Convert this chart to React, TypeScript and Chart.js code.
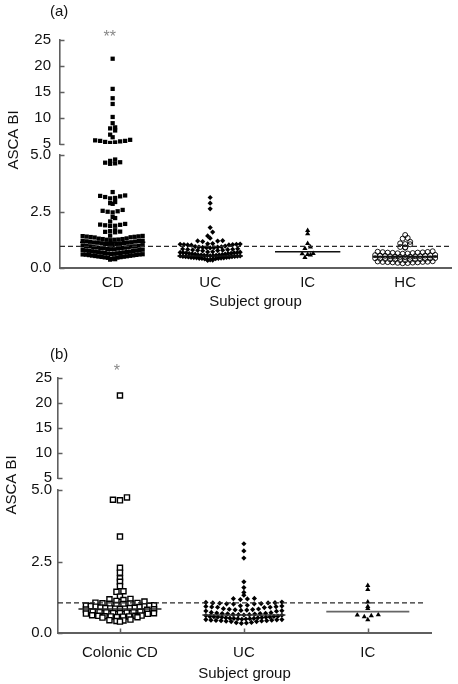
import React, { useEffect, useRef } from "react";
import { Chart, registerables } from "chart.js";

Chart.register(...registerables);

// ---------------- data ----------------
const groupsA = ["CD", "UC", "IC", "HC"];
const groupsB = ["Colonic CD", "UC", "IC"];
const upperTicks = [5, 10, 15, 20, 25];
const lowerTicks = [0, 2.5, 5];

const cdValues = [
  21.4, 15.6, 13.8, 12.7, 10.2, 9.0, 8.2, 8.0, 7.6, 6.8, 6.3, 5.8, 5.7, 5.6, 5.5, 5.4, 5.3, 5.2, 5.6,
  4.8, 4.74, 4.68, 4.63, 4.61, 4.66,
  3.36, 3.21, 3.17, 3.14, 3.1, 3.08, 3.19,
  2.92, 2.87, 2.84,
  2.57, 2.53, 2.49, 2.46, 2.51,
  2.26, 2.21,
  2.06,
  1.95, 1.92, 1.89, 1.87, 1.91, 1.86,
  1.67, 1.63, 1.61, 1.58, 1.6,
  1.43, 1.41, 1.39, 1.4, 1.37, 1.42, 1.38, 1.36, 1.35,
  1.31, 1.3, 1.28, 1.28, 1.26, 1.25, 1.25, 1.23, 1.21, 1.2, 1.2, 1.18, 1.17, 1.16, 1.14, 1.13,
  1.12, 1.12, 1.1, 1.09, 1.07, 1.06, 1.05, 1.04, 1.02, 1.01, 1.0, 0.99, 0.98, 0.96, 0.96, 0.95,
  0.93, 0.92, 0.91, 0.9, 0.88, 0.88, 0.87, 0.86, 0.84, 0.83, 0.83, 0.81, 0.8, 0.79, 0.78, 0.77,
  0.76, 0.75, 0.74, 0.72, 0.72, 0.71, 0.7, 0.69, 0.68, 0.67, 0.66, 0.65, 0.64, 0.63, 0.62, 0.61,
  0.6, 0.6, 0.59, 0.58, 0.57, 0.56, 0.55, 0.54, 0.53, 0.52, 0.51, 0.5, 0.49, 0.48, 0.47, 0.46,
  0.45, 0.43, 0.41, 0.39, 0.37,
];

const ucValues = [
  3.12, 2.87, 2.62, 1.79, 1.59, 1.42, 1.32, 1.21, 1.2, 1.19, 1.17,
  1.08, 1.07, 1.06, 1.05, 1.05, 1.04, 1.03, 1.02, 1.02, 1.01,
  0.97, 0.95, 0.94, 0.93, 0.92, 0.91, 0.9, 0.9, 0.89,
  0.85, 0.84, 0.83, 0.82, 0.81, 0.8, 0.79, 0.78, 0.77, 0.76,
  0.72, 0.71, 0.7, 0.69, 0.68, 0.68, 0.67, 0.66, 0.65, 0.64, 0.64, 0.63, 0.62, 0.61,
  0.59, 0.58, 0.58, 0.57, 0.56, 0.56, 0.55, 0.55, 0.54, 0.53, 0.53, 0.52, 0.51, 0.51, 0.5, 0.5,
  0.49, 0.48, 0.47, 0.47, 0.46, 0.45, 0.45, 0.44, 0.43, 0.43, 0.42, 0.41, 0.4, 0.4,
  0.37, 0.36, 0.35, 0.34,
];

const icValues = [1.66, 1.52, 1.08, 0.93, 0.86, 0.64, 0.63, 0.6, 0.57, 0.46];

const hcValues = [
  1.46, 1.33, 1.3, 1.16, 1.09, 1.06, 1.05, 0.93, 0.91, 0.9,
  0.74, 0.72, 0.71, 0.7, 0.69, 0.68, 0.68, 0.67, 0.66, 0.65, 0.64, 0.63,
  0.58, 0.57, 0.56, 0.55, 0.55, 0.54, 0.53, 0.52, 0.52, 0.51, 0.5, 0.49, 0.48,
  0.44, 0.43, 0.42, 0.41, 0.4, 0.4, 0.39, 0.38, 0.37, 0.37, 0.36, 0.35, 0.34,
  0.3, 0.29, 0.28, 0.27, 0.27, 0.26, 0.25, 0.25, 0.24, 0.23, 0.22, 0.21,
];

const colonicCdValues = [
  21.5,
  4.74, 4.66, 4.64, 3.37, 2.28, 2.11, 1.91, 1.79, 1.64, 1.46, 1.44, 1.27,
  1.19, 1.18, 1.15, 1.12, 1.1, 1.06, 1.05, 1.04, 1.03, 1.02, 1.01,
  0.98, 0.97, 0.96, 0.95, 0.94, 0.93, 0.92, 0.91,
  0.89, 0.88, 0.87, 0.87, 0.86, 0.85, 0.85, 0.84, 0.83, 0.82, 0.81,
  0.75, 0.74, 0.73, 0.72, 0.72, 0.71, 0.7, 0.7, 0.69, 0.68, 0.67,
  0.62, 0.61, 0.6, 0.6, 0.59, 0.58, 0.58, 0.57, 0.56, 0.55, 0.54,
  0.47, 0.45, 0.44, 0.42, 0.4,
];

const mediansA = [1.14, 0.53, 0.72, 0.5];
const mediansB = [0.84, 0.63, 0.75];
const cutoffA = 0.96;
const cutoffB = 1.05;

// ---------------- styling / layout ----------------
const FONT = "'Liberation Sans', Arial, Helvetica, sans-serif";
const TEXT = "#111";
const AXIS = "#5f5f5f";
const W = 458;

type Marker = {
  pointStyle: string;
  radius: number;
  fill: string;
  stroke: string;
  lw: number;
  stepPx: number;
  binPx: number;
  halfPx: number;
};

const mk = (pointStyle: string, radius: number, fill: string, stroke: string, lw: number, stepPx: number, binPx: number, halfPx: number): Marker =>
  ({ pointStyle, radius, fill, stroke, lw, stepPx, binPx, halfPx });

type PanelCfg = {
  top: number;
  height: number;
  axisX: number;
  right: number;
  xMin: number;
  xMax: number;
  dashEnd: number;
  up: [number, number];
  low: [number, number];
  labelPad: number;
  xAxisH: number;
  yPad: number;
  xTicks: boolean;
  groups: string[];
  series: { values: number[]; marker: Marker }[];
  medians: number[];
  medianColors: string[];
  cutoff: number;
  tag: string;
  tagY: number;
  stars: string;
  starsBaseline: number;
  titleCx: number;
  titleCy: number;
};

const PANEL_A: PanelCfg = {
  top: 0, height: 318,
  axisX: 60, right: 451, xMin: -0.54, xMax: 3.47, dashEnd: 3.53,
  up: [40, 144], low: [155, 268], labelPad: 5.5, xAxisH: 43, yPad: 9, xTicks: false,
  groups: groupsA,
  series: [
    { values: cdValues, marker: mk("rect", 3, "#000", "#000", 0, 5, 4.6, 30) },
    { values: ucValues, marker: mk("rectRot", 2.6, "#000", "#000", 0, 5, 4, 30) },
    { values: icValues, marker: mk("triangle", 3, "#000", "#000", 0, 5.5, 4.5, 30) },
    { values: hcValues, marker: mk("circle", 2.5, "rgba(255,255,255,0)", "#000", 0.9, 5, 3.4, 30) },
  ],
  medians: mediansA,
  medianColors: ["#000", "#111", "#111", "#111"],
  cutoff: cutoffA,
  tag: "(a)", tagY: 11.5, stars: "**", starsBaseline: 42, titleCx: 14, titleCy: 140,
};

const PANEL_B: PanelCfg = {
  top: 330, height: 354,
  axisX: 58, right: 431, xMin: -0.5, xMax: 2.51, dashEnd: 2.45,
  up: [378, 478], low: [490, 633], labelPad: 10.5, xAxisH: 50, yPad: 6, xTicks: true,
  groups: groupsB,
  series: [
    { values: colonicCdValues, marker: mk("rect", 3.6, "#fff", "#000", 1.4, 7, 4, 34) },
    { values: ucValues, marker: mk("rectRot", 2.6, "#000", "#000", 0, 7, 4.5, 38) },
    { values: icValues, marker: mk("triangle", 3, "#000", "#000", 0, 7, 5, 38) },
  ],
  medians: mediansB,
  medianColors: ["#222", "#333", "#666"],
  cutoff: cutoffB,
  tag: "(b)", tagY: 355, stars: "*", starsBaseline: 376, titleCx: 12, titleCy: 485,
};

// dot-plot layout: values in the same horizontal band are spread side by side
function swarm(values: number[], yMin: number, pxPerY: number, m: Marker, pxPerX: number): number[] {
  const bins = new Map<number, number[]>();
  values.forEach((v, i) => {
    const b = Math.floor(((v - yMin) * pxPerY) / m.binPx);
    if (!bins.has(b)) bins.set(b, []);
    bins.get(b)!.push(i);
  });
  const out = new Array(values.length).fill(0);
  bins.forEach((idx) => {
    idx.sort((a, b) => values[a] - values[b]);
    const n = idx.length;
    const s = n > 1 ? Math.min(m.stepPx, (2 * m.halfPx) / (n - 1)) : 0;
    const slots = Array.from({ length: n }, (_, k) => (k - (n - 1) / 2) * s);
    slots.sort((a, b) => Math.abs(a) - Math.abs(b) || a - b);
    idx.forEach((vi, k) => {
      out[vi] = slots[k] / pxPerX;
    });
  });
  return out;
}

function PanelChart({ cfg }: { cfg: PanelCfg }) {
  const ref = useRef<HTMLCanvasElement>(null);

  useEffect(() => {
    if (!ref.current) return;
    const padTop = cfg.up[0] - cfg.top;
    const padBottom = cfg.top + cfg.height - (cfg.low[1] + cfg.xAxisH);
    const wUp = cfg.up[1] - cfg.up[0];
    const wGap = cfg.low[0] - cfg.up[1];
    const wLow = cfg.low[1] - cfg.low[0];
    const pxPerX = (cfg.right - cfg.axisX) / (cfg.xMax - cfg.xMin);
    const pxUp = wUp / 20;
    const pxLow = wLow / 5;
    const font = { family: FONT, size: 15 };

    const datasets: any[] = [];
    datasets.push({
      yAxisID: "yLow",
      data: [{ x: cfg.xMin, y: cfg.cutoff }, { x: cfg.dashEnd, y: cfg.cutoff }],
      showLine: true, borderColor: "#2a2a2a", borderWidth: 1.2, borderDash: [5, 3], pointRadius: 0,
    });
    cfg.medians.forEach((m, i) => {
      datasets.push({
        yAxisID: "yLow",
        data: [{ x: i - 0.335, y: m }, { x: i + 0.335, y: m }],
        showLine: true, borderColor: cfg.medianColors[i], borderWidth: 1.7, pointRadius: 0,
      });
    });
    cfg.series.forEach((s, gi) => {
      (["yUp", "yLow"] as const).forEach((axisId) => {
        const isUp = axisId === "yUp";
        const vals = s.values.filter((v) => (isUp ? v > 5 : v <= 5));
        if (!vals.length) return;
        const offs = swarm(vals, isUp ? 5 : 0, isUp ? pxUp : pxLow, s.marker, pxPerX);
        datasets.push({
          yAxisID: axisId,
          data: vals.map((v, k) => ({ x: gi + offs[k], y: v })),
          showLine: false,
          pointStyle: s.marker.pointStyle,
          pointRadius: s.marker.radius,
          backgroundColor: s.marker.fill,
          borderColor: s.marker.stroke,
          borderWidth: s.marker.lw,
        });
      });
    });

    const decor = {
      id: "decor",
      afterDraw(chart: any) {
        const { ctx, chartArea, scales } = chart;
        ctx.save();
        ctx.strokeStyle = AXIS;
        ctx.lineWidth = 1.5;
        ["yUp", "yLow"].forEach((id) => {
          const sc = scales[id];
          sc.ticks.forEach((t: any) => {
            const py = Math.round(sc.getPixelForValue(t.value)) + 0.5;
            ctx.beginPath();
            ctx.moveTo(sc.right, py);
            ctx.lineTo(sc.right + 4.5, py);
            ctx.stroke();
          });
        });
        if (cfg.xTicks) {
          scales.x.ticks.forEach((t: any) => {
            const px = Math.round(scales.x.getPixelForValue(t.value)) + 0.5;
            ctx.beginPath();
            ctx.moveTo(px, chartArea.bottom);
            ctx.lineTo(px, chartArea.bottom - 4.5);
            ctx.stroke();
          });
        }
        ctx.fillStyle = TEXT;
        ctx.font = `15px ${FONT}`;
        ctx.textAlign = "left";
        ctx.textBaseline = "middle";
        ctx.fillText(cfg.tag, 50, cfg.tagY - cfg.top);
        ctx.fillStyle = "#888";
        ctx.font = `16px ${FONT}`;
        ctx.textAlign = "center";
        ctx.textBaseline = "alphabetic";
        ctx.fillText(cfg.stars, scales.x.getPixelForValue(0) - 3, cfg.starsBaseline - cfg.top);
        ctx.translate(cfg.titleCx, cfg.titleCy - cfg.top);
        ctx.rotate(-Math.PI / 2);
        ctx.fillStyle = TEXT;
        ctx.font = `15px ${FONT}`;
        ctx.textAlign = "center";
        ctx.textBaseline = "middle";
        ctx.fillText("ASCA BI", 0, 0);
        ctx.restore();
      },
    };

    const yCommon = (isUp: boolean) => ({
      type: "linear",
      position: "left",
      stack: "panel",
      min: isUp ? 5 : 0,
      max: isUp ? 25 : 5,
      afterBuildTicks: (s: any) => {
        s.ticks = (isUp ? upperTicks : lowerTicks).map((v) => ({ value: v }));
      },
      afterFit: (s: any) => {
        s.width = cfg.axisX;
      },
      grid: { display: false, drawTicks: false },
      border: { display: true, color: AXIS, width: 1.6 },
      ticks: {
        autoSkip: false,
        padding: cfg.yPad,
        color: TEXT,
        font,
        callback: (v: any) => (isUp ? String(v) : Number(v).toFixed(1)),
      },
    });

    // stacked left axes are placed bottom-first in declaration order: lower section, gap, upper section
    const chart = new Chart(ref.current, {
      type: "scatter",
      data: { datasets },
      plugins: [decor as any],
      options: {
        responsive: false,
        animation: false,
        events: [],
        devicePixelRatio: 1,
        layout: { padding: { top: padTop, left: 0, right: W - cfg.right, bottom: padBottom } },
        plugins: { legend: { display: false }, tooltip: { enabled: false } },
        scales: {
          x: {
            type: "linear",
            min: cfg.xMin,
            max: cfg.xMax,
            afterBuildTicks: (s: any) => {
              s.ticks = cfg.groups.map((_, i) => ({ value: i }));
            },
            afterFit: (s: any) => {
              s.height = cfg.xAxisH;
            },
            grid: { display: false, drawTicks: false },
            border: { display: true, color: AXIS, width: 2 },
            ticks: {
              autoSkip: false,
              maxRotation: 0,
              padding: cfg.labelPad,
              color: TEXT,
              font,
              callback: (v: any) => cfg.groups[Math.round(Number(v))] ?? "",
            },
            title: { display: true, text: "Subject group", color: TEXT, font, padding: 0 },
          },
          yLow: { ...yCommon(false), stackWeight: wLow },
          yGap: {
            type: "linear",
            position: "left",
            stack: "panel",
            stackWeight: wGap,
            min: 0,
            max: 1,
            afterFit: (s: any) => {
              s.width = cfg.axisX;
            },
            grid: { display: false, drawTicks: false },
            border: { display: false },
            ticks: { display: false },
          },
          yUp: { ...yCommon(true), stackWeight: wUp },
        },
      } as any,
    });
    return () => chart.destroy();
  }, []);

  return (
    <canvas
      ref={ref}
      width={W}
      height={cfg.height}
      style={{ position: "absolute", left: 0, top: cfg.top, width: W, height: cfg.height }}
    />
  );
}

export default function App() {
  return (
    <div style={{ position: "absolute", left: 0, top: 0, width: W, height: 684, background: "#fff" }}>
      <PanelChart cfg={PANEL_A} />
      <PanelChart cfg={PANEL_B} />
    </div>
  );
}
